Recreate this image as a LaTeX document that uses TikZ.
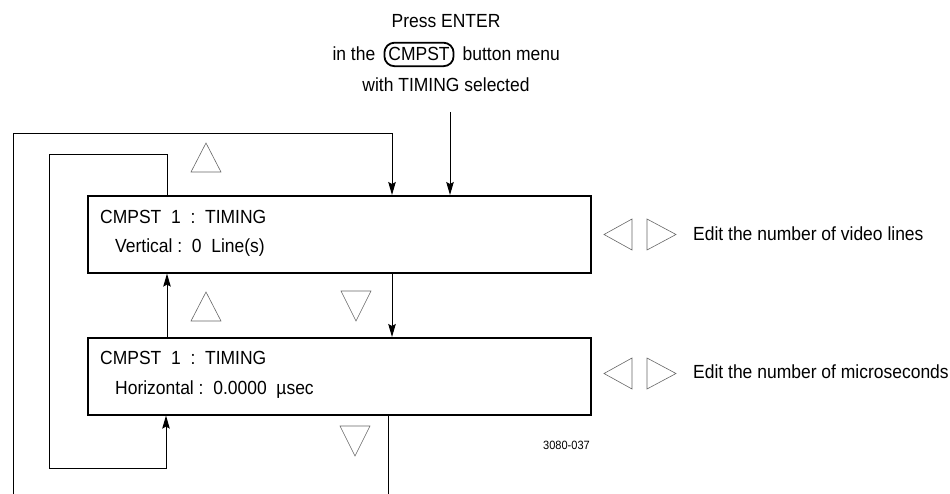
\documentclass[tikz,border=0pt]{standalone}
\usepackage{fontspec}
\setmainfont{Liberation Sans}[FakeStretch=0.92]
\usetikzlibrary{arrows.meta,positioning}

\tikzset{
	menubox/.style={draw=black,line width=1.6pt,minimum width=503pt,minimum height=77pt,inner sep=0pt,anchor=north west},
	menutext/.style={font=\fontsize{19}{22}\selectfont,inner sep=0pt,anchor=base west},
	headtext/.style={font=\fontsize{19}{22}\selectfont,inner sep=0pt},
	button/.style={draw=black,line width=1.8pt,rounded corners=10pt,inner xsep=4pt,inner ysep=5pt},
	flow/.style={line width=1pt,-{Stealth[length=13pt,width=7.5pt,inset=2pt]}},
	wire/.style={line width=1pt},
	keytri/.style={draw=black!60,line width=0.6pt}
}

\begin{document}
\begin{tikzpicture}[x=1pt,y=-1pt]
	\useasboundingbox (0,0) rectangle (950,494);
	
	% header
	\node[headtext] (press) at (446,28)[anchor=base]{Press ENTER};
	\node[headtext,button] (cmpst) at (419,61)[anchor=base]{CMPST};
	\node[headtext] (inthe)[base left=8pt of cmpst]{in the};
	\node[headtext] (menu)[base right=8pt of cmpst]{button menu};
	\node[headtext] (with) at (446,92)[anchor=base]{with TIMING selected};
	
	% menu boxes
	\node[menubox] (vbox) at (87,195){};
	\node[menubox] (hbox) at (87,337){};
	
	\node[menutext] (vtitle) at (100,224){CMPST~~1~~:~~TIMING};
	\node[menutext] (vline) at (115,253){Vertical~:~~0~~Line(s)};
	\node[menutext] (htitle) at (100,364){CMPST~~1~~:~~TIMING};
	\node[menutext] (hline) at (115,394){Horizontal~:~~0.0000~~µsec};
	
	\node[menutext] (vedit) at (693,241){Edit the number of video lines};
	\node[menutext] (hedit) at (693,378){Edit the number of microseconds};
	
	\node[font=\fontsize{12}{14}\selectfont,inner sep=0pt,anchor=base east] (figno) at (590,449){3080-037};
	
	% up and down keys
	\draw[keytri] (191,172) -- (206,143) -- (221,172) -- cycle;
	\draw[keytri] (191,321) -- (206,292) -- (221,321) -- cycle;
	\draw[keytri] (341,291) -- (371,291) -- (356,321) -- cycle;
	\draw[keytri] (340,426) -- (370,426) -- (355,456) -- cycle;
	
	% left and right keys
	\begin{scope}
		\draw[keytri] (632,219) -- (604,234.5) -- (632,250) -- cycle;
		\draw[keytri] (647,219) -- (676,234.5) -- (647,250) -- cycle;
	\end{scope}
	\begin{scope}[shift={(0,139)}]
		\draw[keytri] (632,219) -- (604,234.5) -- (632,250) -- cycle;
		\draw[keytri] (647,219) -- (676,234.5) -- (647,250) -- cycle;
	\end{scope}
	
	% connectors
	\coordinate (enter) at (450,112);
	\coordinate (outerL) at (13,494);
	\coordinate (outerR) at (392,134);
	\coordinate (outerB) at (388,494);
	\coordinate (innerT) at (167,155);
	\coordinate (innerB) at (49,468);
	\coordinate (innerR) at (166,468);
	
	\draw[flow] (enter) -- (enter |- vbox.north);
	\draw[flow] (outerL) |- (outerR) -- (outerR |- vbox.north);
	\draw[flow] (outerR |- vbox.south) -- (outerR |- hbox.north);
	\draw[wire] (outerB |- hbox.south) -- (outerB);
	\draw[flow] (innerT |- vbox.north) -- (innerT) -| (innerB) -- (innerR) -- (innerR |- hbox.south);
	\draw[flow] (innerT |- hbox.north) -- (innerT |- vbox.south);
	
\end{tikzpicture}
\end{document}
